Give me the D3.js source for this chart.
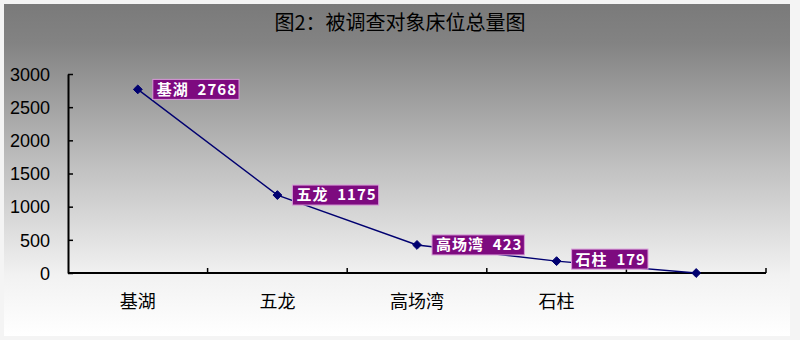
<!doctype html>
<html>
<head>
<meta charset="utf-8" />
<title>被调查对象床位总量图</title>
<style>
  html,body{margin:0;background:#fff}
  svg{display:block;font-family:"Noto Sans CJK SC", sans-serif}
  .tick-y text{font-family:Arial,"Liberation Sans",sans-serif;font-size:18px;fill:#000}
  .cat{font-size:18px;fill:#000}
  .lbl{font-size:15px;font-weight:700;fill:#fff;letter-spacing:1px}
</style>
</head>
<body>
<svg id="chart" width="800" height="340"></svg>
<script src="https://cdn.jsdelivr.net/npm/d3@7"></script>
<script>
// ---- data ----
const categories = ["基湖", "五龙", "高场湾", "石柱", ""];
const values     = [2768, 1175, 423, 179, 0];
const yTicks     = [0, 500, 1000, 1500, 2000, 2500, 3000];
const title      = "图2：被调查对象床位总量图";

const svg = d3.select("#chart");
const W = 800, H = 340;
const plot = {left: 68, right: 766, top: 74, bottom: 273};

// background: grey to white fade, with thin light frame
const defs = svg.append("defs");
const grad = defs.append("linearGradient").attr("id", "bg")
  .attr("x1", 0).attr("y1", 0).attr("x2", 0).attr("y2", 1);
grad.append("stop").attr("offset", "0%").attr("stop-color", "#7a7a7a");
grad.append("stop").attr("offset", "12%").attr("stop-color", "#838383");
grad.append("stop").attr("offset", "50%").attr("stop-color", "#c2c2c2");
grad.append("stop").attr("offset", "82%").attr("stop-color", "#f2f2f2");
grad.append("stop").attr("offset", "100%").attr("stop-color", "#ffffff");

svg.append("rect").attr("width", W).attr("height", H).attr("fill", "#f4f4f4");
svg.append("rect").attr("x", 4).attr("y", 4).attr("width", 786).attr("height", 332)
  .attr("fill", "url(#bg)");

// title
svg.append("text")
  .attr("x", 400).attr("y", 30)
  .attr("text-anchor", "middle")
  .attr("font-size", 20)
  .attr("font-weight", 400)
  .attr("fill", "#000")
  .text(title);

// scales
const x = d3.scaleBand().domain(d3.range(categories.length))
  .range([plot.left, plot.right]).padding(0);
const y = d3.scaleLinear().domain([0, 3000]).range([plot.bottom, plot.top]);

// y axis (ticks point inward)
const yAxis = svg.append("g")
  .attr("class", "tick-y")
  .attr("transform", `translate(${plot.left},0)`)
  .call(d3.axisRight(y).tickValues(yTicks).tickSize(5).tickSizeOuter(0).tickFormat(d3.format("d")));
yAxis.select(".domain").attr("stroke", "#000").attr("stroke-width", 2);
yAxis.selectAll(".tick line").attr("stroke", "#000").attr("stroke-width", 1.5);
yAxis.selectAll(".tick text").attr("x", -18).attr("text-anchor", "end").attr("dy", "0.35em");

// x axis line + category boundary ticks pointing up
const xAxis = svg.append("g").attr("transform", `translate(0,${plot.bottom})`);
xAxis.append("line")
  .attr("x1", plot.left).attr("x2", plot.right)
  .attr("stroke", "#000").attr("stroke-width", 2);
xAxis.selectAll("line.tk")
  .data(d3.range(1, categories.length + 1))
  .join("line").attr("class", "tk")
  .attr("x1", i => x(i - 1) + x.bandwidth()).attr("x2", i => x(i - 1) + x.bandwidth())
  .attr("y1", 0).attr("y2", -5)
  .attr("stroke", "#000").attr("stroke-width", 1.5);
xAxis.selectAll("text.cat")
  .data(categories)
  .join("text").attr("class", "cat")
  .attr("x", (d, i) => x(i) + x.bandwidth() / 2)
  .attr("y", 35)
  .attr("text-anchor", "middle")
  .text(d => d);

// series line
const cx = i => x(i) + x.bandwidth() / 2;
svg.append("path")
  .datum(values)
  .attr("fill", "none")
  .attr("stroke", "#000070")
  .attr("stroke-width", 1.4)
  .attr("d", d3.line().x((d, i) => cx(i)).y(d => y(d)));

// data labels (purple boxes)
const lblData = values.map((v, i) => ({i, v, name: categories[i]})).filter(d => d.name);
const lg = svg.selectAll("g.lbl")
  .data(lblData)
  .join("g")
  .attr("transform", d => `translate(${cx(d.i) + 15},${y(d.v) - (d.i === 3 ? 2 : 0)})`);
lg.each(function(d) {
  const g = d3.select(this);
  const t = g.append("text").attr("class", "lbl")
    .attr("x", 4).attr("dy", "0.36em")
    .attr("xml:space", "preserve")
    .text(`${d.name}  ${d.v}`);
  const w = t.node().getComputedTextLength();
  g.insert("rect", "text")
    .attr("x", 0).attr("y", -10)
    .attr("width", w + 6).attr("height", 20)
    .attr("fill", "#7d0a7f")
    .attr("stroke", "#d79bd8").attr("stroke-width", 1);
});

// diamond markers
svg.selectAll("path.mk")
  .data(values)
  .join("path").attr("class", "mk")
  .attr("transform", (d, i) => `translate(${cx(i)},${y(d)})`)
  .attr("d", d3.symbol().type(d3.symbolDiamond2).size(50))
  .attr("fill", "#000070")
  .attr("stroke", "#000070");
</script>
</body>
</html>
